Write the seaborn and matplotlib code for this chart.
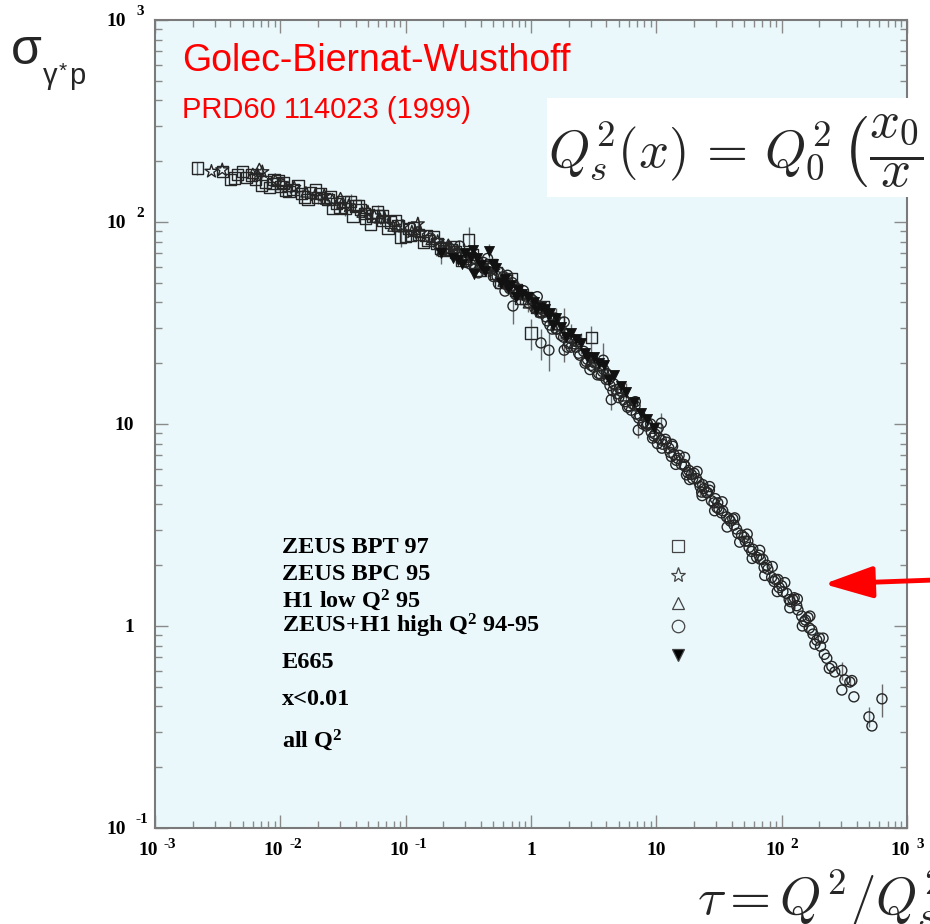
import numpy as np
import pandas as pd
import matplotlib
matplotlib.use("Agg")
import matplotlib.pyplot as plt
import seaborn as sns
from matplotlib.patches import Rectangle
from matplotlib.lines import Line2D
from matplotlib.ticker import LogLocator, NullFormatter

# ---------------------------------------------------------------------------
# Geometric scaling of the gamma* p cross section, sigma vs tau = Q^2/Qs^2
# ---------------------------------------------------------------------------

# ZEUS BPT 97 (open squares)
bpt_tau = [0.00217, 0.00347, 0.00398, 0.0043, 0.00457, 0.00501, 0.00537, 0.0059,
           0.00631, 0.00708, 0.00759, 0.0082, 0.00871, 0.00891, 0.0096, 0.0100,
           0.0105, 0.0110, 0.0117, 0.0126, 0.0138, 0.0148, 0.0155, 0.0166, 0.0174,
           0.0190, 0.0200, 0.0209, 0.0240, 0.0250, 0.0263, 0.0282, 0.030, 0.0316,
           0.0331, 0.0363, 0.0380, 0.0398, 0.042, 0.0437, 0.0468, 0.048, 0.0525,
           0.0550, 0.0597, 0.0603, 0.065, 0.0661, 0.0724, 0.0759, 0.0832, 0.087,
           0.0912, 0.100, 0.105, 0.11, 0.115, 0.126, 0.138, 0.145, 0.151, 0.166,
           0.178, 0.19, 0.200, 0.209, 0.23, 0.240, 0.251, 0.282, 0.302, 0.319,
           0.339, 0.363, 0.398, 0.437, 0.479, 0.525, 0.575, 0.631, 0.692, 0.759,
           0.832, 0.912, 1.00, 1.10, 1.259, 1.660, 3.02]
bpt_sig = [185, 178, 162, 165, 172, 178, 166, 171,
           162, 151, 158, 148, 155, 162, 161, 150,
           156, 143, 141, 145, 151, 138, 133, 129, 140,
           145, 132, 138, 129, 133, 117, 123, 118, 126,
           117, 126, 107, 120, 121, 115, 110, 104, 97.7,
           107, 112, 107, 107, 102, 93.3, 100, 102, 96,
           84.4, 85.1, 93, 86, 93.3, 87, 79.4, 86, 81, 85.1,
           78, 74, 72.4, 75, 73, 75.9, 71, 64.6, 66, 81.5,
           69.2, 63, 57.5, 60, 61.7, 56, 50.1, 51, 52.5, 46,
           41.7, 42, 28.2, 38, 38.0, 31.6, 26.7]

# ZEUS BPC 95 (open stars)
bpc_tau = [0.00282, 0.00344, 0.00661, 0.00718, 0.0091, 0.0129, 0.019, 0.0224, 0.026,
           0.035, 0.05, 0.0562, 0.068, 0.095, 0.112, 0.125, 0.13, 0.18, 0.191,
           0.26, 0.35, 0.5]
bpc_sig = [178, 181, 170, 177, 160, 148, 136, 135, 128,
           120, 112, 107, 104, 95, 89.1, 97.7, 88, 80, 72.4,
           71, 64, 57]

# H1 low Q^2 95 (open triangles)
h1_tau = [0.00603, 0.0068, 0.0105, 0.0115, 0.016, 0.023, 0.0302, 0.031, 0.045,
          0.062, 0.0794, 0.085, 0.12, 0.16, 0.219, 0.22, 0.3, 0.42, 0.447, 0.6,
          0.85, 0.955, 1.2, 1.6, 1.905, 2.2, 3.0, 3.981, 5.623, 8.913]
h1_sig = [174, 184, 155, 150, 141, 130, 132, 124, 112,
          105, 95.5, 97, 90, 82, 77.6, 74, 67, 61, 58.9, 51,
          44, 39.8, 36, 31, 28.2, 25, 20.5, 17.8, 13.8, 10.0]

# ZEUS+H1 high Q^2 94-95 (open circles)
hiq_tau = [0.158, 0.191, 0.224, 0.263, 0.27, 0.302, 0.331, 0.355, 0.355, 0.38,
           0.398, 0.417, 0.45, 0.457, 0.501, 0.537, 0.55, 0.562, 0.603, 0.62,
           0.631, 0.65, 0.676, 0.708, 0.718, 0.75, 0.759, 0.794, 0.832, 0.871,
           0.9, 0.955, 1.000, 1.047, 1.07, 1.122, 1.122, 1.175, 1.20, 1.230,
           1.26, 1.318, 1.349, 1.39, 1.413, 1.479, 1.514, 1.55, 1.585, 1.622,
           1.738, 1.820, 1.84, 1.84, 1.862, 1.95, 1.995, 2.089, 2.138, 2.239,
           2.291, 2.35, 2.399, 2.455, 2.630, 2.7, 2.754, 2.818, 2.951, 3.020,
           3.1, 3.162, 3.236, 3.4, 3.467, 3.631, 3.715, 3.77, 3.802, 3.981,
           4.0, 4.169, 4.266, 4.37, 4.5, 4.571, 4.786, 4.898, 5.012, 5.1,
           5.248, 5.495, 5.623, 5.9, 6.026, 6.310, 6.457, 6.761, 6.8, 6.918,
           7.18, 7.244, 7.413, 7.8, 7.943, 8.318, 8.511, 9.0, 9.120, 9.333,
           9.550, 9.772, 10.2, 10.35, 10.47, 10.96, 10.96, 11.09, 11.22, 11.8,
           12.02, 12.59, 12.88, 13.2, 13.34, 13.49, 13.80, 14.29, 14.45, 14.79,
           15.2, 15.85, 16.60, 16.79, 16.98, 17.4, 17.78, 18.20, 18.41, 19.05,
           19.50, 20.0, 20.89, 21.13, 21.88, 22.39, 23.0, 23.17, 23.44, 23.99,
           25.12, 25.70, 26.5, 26.61, 27.54, 28.84, 29.17, 29.51, 30.5, 30.90,
           31.62, 33.11, 33.50, 33.88, 36.31, 36.73, 38.02, 38.90, 40.74, 41.69,
           42.17, 43.65, 44.67, 46.24, 47.86, 50.12, 51.29, 53.09, 53.70, 54.95,
           57.54, 58.21, 58.88, 63.10, 66.07, 66.83, 67.61, 70.79, 72.44, 73.28,
           75.86, 77.62, 83.18, 84.14, 87.10, 89.13, 92.26, 93.33, 95.50, 100.0,
           102.3, 105.9, 109.6, 114.8, 116.1, 117.5, 123.0, 125.9, 131.8, 133.4,
           134.9, 144.5, 146.2, 151.4, 154.9, 162.2, 166.0, 167.9, 173.8, 177.8,
           184.1, 190.5, 199.5, 204.2, 213.8, 218.8, 229.1, 239.9, 251.2, 265.5,
           302, 302, 319, 350, 363, 377, 497, 525, 631]
hiq_sig = [83.2, 75.9, 74.1, 69.2, 76, 63.1, 61.7, 66.1, 58.9, 56,
           60.3, 63.1, 66, 58.9, 53.7, 53.7, 49.5, 56.2, 53.7, 45.5,
           49.0, 54.5, 46.8, 50.1, 38.4, 47.5, 43.7, 44.7, 43.7, 45.7,
           43, 39.8, 41.7, 40.7, 37.5, 37.2, 42.7, 35.5, 25.2, 35.5,
           36.5, 33.9, 32.4, 23.2, 30.9, 29.5, 32.4, 33.5, 29.5, 29.5,
           27.5, 26.9, 32.0, 23.2, 28.2, 24.0, 25.1, 24.0, 26.3, 25.7,
           24.0, 25.5, 22.4, 21.9, 22.9, 20.0, 20.4, 20.9, 18.6, 19.5,
           21.0, 19.1, 20.0, 17.5, 17.8, 17.4, 18.2, 20.7, 18.6, 16.6,
           17.8, 16.6, 15.5, 13.2, 14.6, 15.8, 14.8, 14.1, 13.5, 15.0,
           14.5, 13.2, 12.9, 12.1, 12.3, 11.7, 12.6, 12.3, 12.9, 11.2,
           9.33, 10.7, 11.0, 10.0, 10.2, 9.77, 10.0, 10.0, 9.12, 8.51,
           8.71, 8.91, 8.0, 9.55, 8.51, 8.32, 10.1, 7.59, 7.94, 8.4,
           8.13, 7.59, 7.24, 6.9, 7.94, 7.76, 7.08, 6.31, 6.61, 6.76,
           7.0, 6.31, 6.31, 6.84, 6.17, 5.6, 5.75, 5.89, 5.31, 5.62,
           5.37, 5.7, 5.37, 5.82, 5.13, 4.90, 4.6, 4.42, 5.01, 4.79,
           4.57, 4.57, 4.7, 4.90, 4.17, 4.07, 3.72, 4.27, 3.85, 4.07,
           3.80, 3.63, 4.12, 3.72, 3.47, 3.09, 3.39, 3.31, 3.39, 3.16,
           3.43, 3.02, 2.88, 2.60, 2.82, 2.75, 2.63, 2.85, 2.63, 2.45,
           2.34, 2.16, 2.40, 2.19, 2.24, 2.37, 2.14, 2.14, 1.95, 1.78,
           2.00, 1.91, 1.74, 1.97, 1.66, 1.70, 1.48, 1.70, 1.55, 1.58,
           1.48, 1.64, 1.45, 1.35, 1.23, 1.32, 1.35, 1.38, 1.26, 1.36,
           1.20, 1.12, 1.00, 1.05, 1.07, 1.10, 0.977, 1.12, 0.955, 0.912,
           0.813, 0.851, 0.871, 0.794, 0.871, 0.724, 0.692, 0.617, 0.631, 0.592,
           0.603, 0.482, 0.541, 0.528, 0.537, 0.446, 0.355, 0.320, 0.436]

# E665 (filled down triangles)
e665_tau = [0.19, 0.24, 0.26, 0.28, 0.30, 0.33, 0.344, 0.35, 0.37, 0.40, 0.43,
            0.46, 0.50, 0.525, 0.575, 0.62, 0.66, 0.69, 0.759, 0.79, 0.85, 0.95,
            1.05, 1.1, 1.2, 1.3, 1.37, 1.413, 1.5, 1.58, 1.74, 1.9, 2.09, 2.3,
            2.51, 2.7, 2.818, 3.19, 3.5, 3.84, 4.2, 4.6, 5.2, 5.75, 6.6, 7.6,
            8.5, 9.5]
e665_sig = [70, 66.1, 65, 62, 70, 67, 73, 55, 66, 61, 57,
            72, 62, 59, 50, 52, 47, 49, 42.7, 46, 44, 42.5,
            40, 36.5, 38, 37, 34.7, 35.5, 31, 33.5, 30.2, 27, 28.2, 26.5,
            25.2, 22.5, 21.4, 21.5, 20, 19.5, 16.5, 17.5, 15.5, 14.4, 12.8, 11.3,
            10.6, 9.6]

# points drawn with visible vertical error bars
bar_tau = [0.00217, 0.00718, 0.0100, 0.0148, 0.0200, 0.0331, 0.0363, 0.0597, 0.0912,
           0.125, 0.251, 0.302, 0.319, 0.19, 0.40, 0.46, 0.525, 0.631, 0.69, 0.718,
           0.79, 0.955, 1.00, 1.2, 1.37, 1.39, 1.58, 1.84, 2.09, 2.51, 3.02, 3.77,
           4.37, 5.75, 10.96, 7.18, 1.84, 302, 631, 497, 350, 125.9, 22.39]
bar_sig = [185, 177, 150, 138, 132, 117, 126, 112, 84.4,
           97.7, 71, 66, 81.5, 70, 61, 72, 59, 51, 49, 38.4,
           46, 39.8, 28.2, 25.2, 34.7, 23.2, 33.5, 32.0, 28.2, 25.2, 26.7, 20.7,
           13.2, 14.4, 10.1, 9.33, 23.2, 0.603, 0.436, 0.355, 0.528, 1.38, 4.90]
bar_err = [14, 11, 9, 8, 9, 10, 12, 9, 9,
           8, 8, 7, 13, 8, 7, 6, 6, 6, 7, 7,
           5, 4, 5, 4.5, 4, 5, 4, 5.5, 3, 3, 4, 4.5,
           1.5, 1.6, 1.3, 0.8, 3, 0.06, 0.08, 0.04, 0.03, 0.09, 0.5]

# axis tick labels
xtick_vals = [1e-3, 1e-2, 1e-1, 1, 10, 1e2, 1e3]
xtick_base = ["10", "10", "10", "1", "10", "10", "10"]
xtick_sup = ["-3", "-2", "-1", "", "", "2", "3"]
ytick_vals = [1e-1, 1, 10, 1e2, 1e3]
ytick_base = ["10", "1", "10", "10", "10"]
ytick_sup = ["-1", "", "", "2", "3"]

# legend entries
legend_labels = ["ZEUS BPT 97", "ZEUS BPC 95", "H1 low Q$^{2}$ 95",
                 "ZEUS+H1 high Q$^{2}$ 94-95", "E665"]
extra_labels = ["x<0.01", "all Q$^{2}$"]

# ---------------------------------------------------------------------------
sns.set_theme(style="ticks")
plt.rcParams["font.family"] = ["Liberation Sans", "DejaVu Sans"]
plt.rcParams["mathtext.fontset"] = "custom"
plt.rcParams["mathtext.rm"] = "Liberation Serif:bold"
plt.rcParams["mathtext.it"] = "Liberation Serif:bold"
plt.rcParams["mathtext.bf"] = "Liberation Serif:bold"

W, H = 930, 924


def fx(px):
    return px / W


def fy(py):
    return 1 - py / H


def pt(px):
    return px * 0.72


fig = plt.figure(figsize=(W / 100, H / 100), dpi=100)
fig.patch.set_facecolor("white")
ax = fig.add_axes([fx(155), fy(828), (907 - 155) / W, (828 - 20) / H])
ax.set_facecolor("#EAF8FC")
ax.set_xscale("log")
ax.set_yscale("log")
ax.set_xlim(1e-3, 1e3)
ax.set_ylim(1e-1, 1e3)

# error bars underneath the markers
ax.errorbar(bar_tau, bar_sig, yerr=bar_err, fmt="none", ecolor="#6a6a6a",
            elinewidth=1.0, capsize=0, zorder=2)

edge = "#262626"
series = [
    (bpt_tau, bpt_sig, "s", 66),
    (bpc_tau, bpc_sig, "*", 95),
    (h1_tau, h1_sig, "^", 55),
    (hiq_tau, hiq_sig, "o", 52),
]
for tau, sig, mk, size in series:
    df = pd.DataFrame({"tau": tau, "sigma": sig})
    sns.scatterplot(data=df, x="tau", y="sigma", marker=mk, s=size,
                    facecolors="none", edgecolor=edge, linewidth=1.0,
                    ax=ax, zorder=3, legend=False)

df_e = pd.DataFrame({"tau": e665_tau, "sigma": e665_sig})
sns.scatterplot(data=df_e, x="tau", y="sigma", marker="v", s=52,
                color="#111111", edgecolor="#111111", linewidth=0.6,
                ax=ax, zorder=4, legend=False)

ax.set_xlabel("")
ax.set_ylabel("")

# ticks: inward on all four sides
ax.xaxis.set_major_locator(LogLocator(base=10, numticks=20))
ax.yaxis.set_major_locator(LogLocator(base=10, numticks=20))
ax.xaxis.set_minor_locator(LogLocator(base=10, subs=np.arange(2, 10), numticks=20))
ax.yaxis.set_minor_locator(LogLocator(base=10, subs=np.arange(2, 10), numticks=20))
for axis in (ax.xaxis, ax.yaxis):
    axis.set_major_formatter(NullFormatter())
    axis.set_minor_formatter(NullFormatter())
ax.tick_params(which="both", direction="in", top=True, right=True,
               color="#8a8a8a", width=1.0)
ax.tick_params(which="major", length=9.5)
ax.tick_params(which="minor", length=5)
for sp in ax.spines.values():
    sp.set_color("#7a7a7a")
    sp.set_linewidth(1.5)

lab = dict(family="Liberation Serif", weight="bold", color="black")
for v, base, sup in zip(xtick_vals, xtick_base, xtick_sup):
    if sup:
        ax.annotate(base, xy=(v, 0), xycoords=("data", "axes fraction"),
                    xytext=(pt(3), -pt(27)), textcoords="offset points",
                    ha="right", va="baseline", fontsize=14, **lab)
        ax.annotate(sup, xy=(v, 0), xycoords=("data", "axes fraction"),
                    xytext=(pt(9), -pt(20)), textcoords="offset points",
                    ha="left", va="baseline", fontsize=11, **lab)
    else:
        ax.annotate(base, xy=(v, 0), xycoords=("data", "axes fraction"),
                    xytext=(0, -pt(27)), textcoords="offset points",
                    ha="center", va="baseline", fontsize=14, **lab)

for v, base, sup in zip(ytick_vals, ytick_base, ytick_sup):
    if sup:
        ax.annotate(base, xy=(0, v), xycoords=("axes fraction", "data"),
                    xytext=(-pt(29), -pt(6)), textcoords="offset points",
                    ha="right", va="baseline", fontsize=14, **lab)
        ax.annotate(sup, xy=(0, v), xycoords=("axes fraction", "data"),
                    xytext=(-pt(19), pt(5)), textcoords="offset points",
                    ha="left", va="baseline", fontsize=11, **lab)
    else:
        ax.annotate(base, xy=(0, v), xycoords=("axes fraction", "data"),
                    xytext=(-pt(21), -pt(6)), textcoords="offset points",
                    ha="right", va="baseline", fontsize=14, **lab)

# legend block drawn inside the frame
leg_base = [553, 580, 607, 633, 668]
leg_mark_y = [546, 575, 603, 626, 655]
leg_marks = [("s", "none", 9), ("*", "none", 11), ("^", "none", 9),
             ("o", "none", 9), ("v", "black", 9)]
for txt, yb in zip(legend_labels, leg_base):
    fig.text(fx(282), fy(yb), txt, fontsize=17.5, va="baseline", ha="left", **lab)
for (mk, fc, ms), ym in zip(leg_marks, leg_mark_y):
    fig.add_artist(Line2D([fx(678)], [fy(ym)], transform=fig.transFigure,
                          marker=mk, markersize=ms, markerfacecolor=fc,
                          markeredgecolor="#444444", markeredgewidth=0.9,
                          linestyle="none"))
for txt, yb in zip(extra_labels, [705, 747]):
    fig.text(fx(282), fy(yb), txt, fontsize=17.5, va="baseline", ha="left", **lab)

# author / reference in red
fig.text(fx(182), fy(71), "Golec-Biernat-Wusthoff", color="#FF0000",
         fontsize=27, family="Liberation Sans", va="baseline")
fig.text(fx(182), fy(118), "PRD60 114023 (1999)", color="#FF0000",
         fontsize=21, family="Liberation Sans", va="baseline")

# y-axis quantity
fig.text(fx(11), fy(64), "σ", fontsize=36, family="Liberation Sans", va="baseline")
fig.text(fx(43), fy(84), "γ", fontsize=21, family="Liberation Sans", va="baseline")
fig.text(fx(59), fy(77), "*", fontsize=15, family="Liberation Sans", va="baseline")
fig.text(fx(69), fy(84), "p", fontsize=21, family="Liberation Sans", va="baseline")

# saturation-scale formula on a white card
card = Rectangle((fx(547), fy(197)), fx(930 - 547) + 0.02, (197 - 98) / H,
                 transform=fig.transFigure, facecolor="white", edgecolor="none",
                 zorder=10)
fig.add_artist(card)
f1 = fig.text(fx(548), fy(167),
              r"$Q_s^2(x)\,=\,Q_0^2\,\left(\dfrac{x_0}{x}\right)^{\lambda}$",
              fontsize=38, math_fontfamily="cm", va="baseline", ha="left", zorder=11)
f1.set_clip_path(card)

# scaling variable
fig.text(fx(697), fy(915), r"$\tau = Q^2/Q_s^2$", fontsize=38,
         math_fontfamily="cm", va="baseline", ha="left")

# red arrow pointing at the high-tau tail
ax.annotate("", xy=(824, H - 584), xycoords="figure pixels",
            xytext=(962, H - 579), textcoords="figure pixels",
            arrowprops=dict(arrowstyle="-|>,head_length=0.4,head_width=0.13",
                            color="#FF0000", lw=3.5, mutation_scale=75,
                            shrinkA=0, shrinkB=0),
            annotation_clip=False, zorder=12)

fig.savefig("out.png", dpi=100)
